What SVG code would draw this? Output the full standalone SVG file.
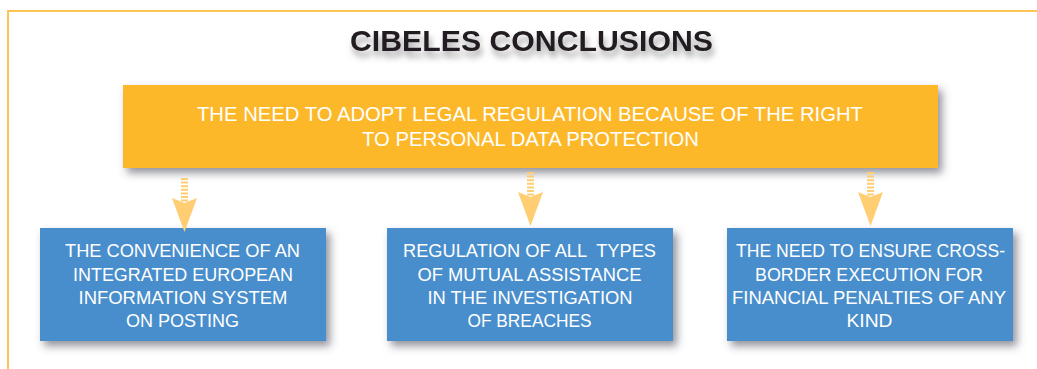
<svg xmlns="http://www.w3.org/2000/svg" width="1037" height="369" viewBox="0 0 1037 369">
<style>
.frame{fill:none;stroke:#FDB72A;stroke-width:1.6}
.title{font-family:"Liberation Sans",Arial,sans-serif;font-weight:bold;font-size:30px;fill:#231F20;text-anchor:middle}
.orange{fill:#FDB829}
.blue{fill:#4A8ECC}
.t{font-family:"Liberation Sans",Arial,sans-serif;fill:#FFFFFF;text-anchor:middle;white-space:pre}
.big{font-size:21px}
.small{font-size:19px}
.arr{fill:#FFCD72}
.stem{stroke:#FFCD72;stroke-width:7;stroke-dasharray:2 1.6;fill:none}
</style>
<defs>
<filter id="sh" x="-10%" y="-20%" width="125%" height="150%">
<feDropShadow dx="4" dy="5" stdDeviation="4" flood-color="#4a4a5a" flood-opacity="0.6"/>
</filter>
<filter id="tsh" x="-10%" y="-50%" width="120%" height="220%">
<feDropShadow dx="2" dy="6" stdDeviation="3" flood-color="#555" flood-opacity="0.55"/>
</filter>
<g id="arrow">
<line class="stem" x1="0" y1="0" x2="0" y2="25"/>
<polygon class="arr" points="-12.5,20 0,25 12.5,20 0,54"/>
</g>
</defs>
<rect class="frame" x="8" y="11" width="1100" height="500"/>
<g id="title">
<text class="title" x="531.5" y="51" textLength="363" lengthAdjust="spacingAndGlyphs" filter="url(#tsh)">CIBELES CONCLUSIONS</text>
</g>
<g id="top-node">
<rect class="orange" x="123" y="85" width="815" height="83" filter="url(#sh)"/>
<text class="t big" x="530" y="121" textLength="666" lengthAdjust="spacingAndGlyphs">THE NEED TO ADOPT LEGAL REGULATION BECAUSE OF THE RIGHT</text>
<text class="t big" x="530.5" y="146" textLength="337" lengthAdjust="spacingAndGlyphs">TO PERSONAL DATA PROTECTION</text>
</g>
<g id="node-1">
<rect class="blue" x="40" y="228" width="286" height="113" filter="url(#sh)"/>
<text class="t small" x="182.5" y="257" textLength="235" lengthAdjust="spacingAndGlyphs">THE CONVENIENCE OF AN</text>
<text class="t small" x="183" y="281" textLength="220" lengthAdjust="spacingAndGlyphs">INTEGRATED EUROPEAN</text>
<text class="t small" x="183" y="304" textLength="209" lengthAdjust="spacingAndGlyphs">INFORMATION SYSTEM</text>
<text class="t small" x="182.5" y="327" textLength="113" lengthAdjust="spacingAndGlyphs">ON POSTING</text>
</g>
<g id="node-2">
<rect class="blue" x="387" y="228" width="286" height="113" filter="url(#sh)"/>
<text class="t small" x="529.5" y="257" textLength="253" lengthAdjust="spacingAndGlyphs">REGULATION OF ALL  TYPES</text>
<text class="t small" x="529.5" y="281" textLength="224" lengthAdjust="spacingAndGlyphs">OF MUTUAL ASSISTANCE</text>
<text class="t small" x="530" y="304" textLength="205" lengthAdjust="spacingAndGlyphs">IN THE INVESTIGATION</text>
<text class="t small" x="529.5" y="327" textLength="124" lengthAdjust="spacingAndGlyphs">OF BREACHES</text>
</g>
<g id="node-3">
<rect class="blue" x="727" y="228" width="286" height="113" filter="url(#sh)"/>
<text class="t small" x="870.5" y="257" textLength="269" lengthAdjust="spacingAndGlyphs">THE NEED TO ENSURE CROSS-</text>
<text class="t small" x="869" y="281" textLength="228" lengthAdjust="spacingAndGlyphs">BORDER EXECUTION FOR</text>
<text class="t small" x="869" y="304" textLength="274" lengthAdjust="spacingAndGlyphs">FINANCIAL PENALTIES OF ANY</text>
<text class="t small" x="869.5" y="327" textLength="46" lengthAdjust="spacingAndGlyphs">KIND</text>
</g>
<g id="connectors">
<use href="#arrow" x="184.5" y="178"/>
<use href="#arrow" x="530.5" y="172"/>
<use href="#arrow" x="870.5" y="172"/>
</g>
</svg>
